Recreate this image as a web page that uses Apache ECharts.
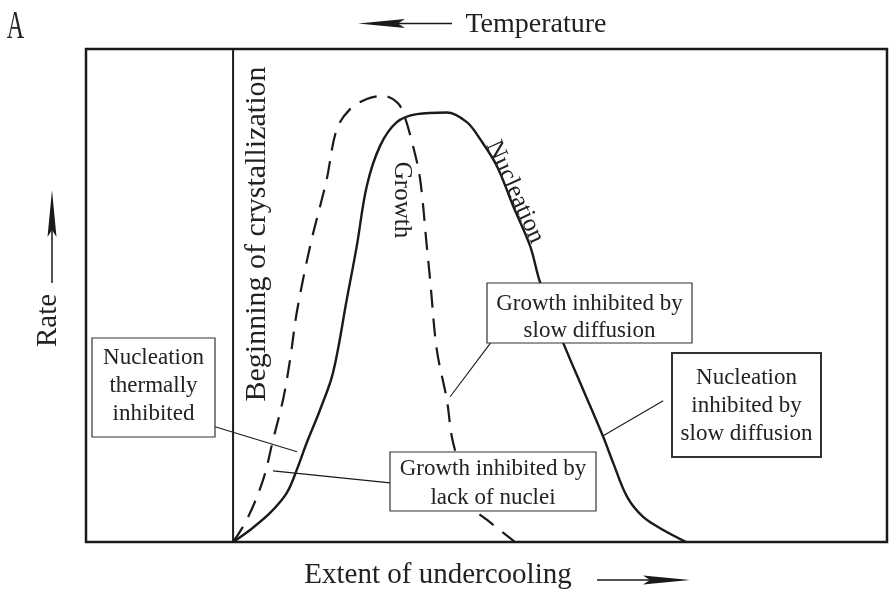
<!DOCTYPE html>
<html>
<head>
<meta charset="utf-8">
<script src="https://cdn.jsdelivr.net/npm/echarts@6/dist/echarts.min.js"></script>
<style>html,body{margin:0;padding:0;background:#fff}#c{width:889px;height:591px}</style>
</head>
<body>
<div id="c"></div>
<script>
// ---- data (arbitrary units: x = extent of undercooling, y = rate) ----
const onsetX = 19.17;
const nucleationX = [19.17, 21.38, 23.99, 26.17, 27.47, 28.77, 30.51, 32.20, 33.99, 35.29, 36.60, 38.33, 40.51, 43.12, 47.03, 49.64, 51.37, 53.55, 55.67, 57.89, 59.19, 62.19, 64.80, 67.41, 68.71, 70.53, 72.62, 75.23, 78.23];
const nucleationY = [0, 2.44, 5.89, 9.96, 14.63, 20.12, 26.83, 34.35, 49.19, 60.02, 72.22, 80.35, 85.16, 86.79, 87.13, 85.16, 81.71, 76.28, 68.15, 60.02, 52.64, 40.45, 30.89, 21.34, 16.06, 9.15, 5.08, 2.44, 0];
const growthX = [19.17, 20.95, 23.08, 24.38, 25.68, 26.60, 27.47, 29.20, 30.51, 31.38, 32.69, 34.42, 36.60, 38.72, 40.51, 41.33, 42.63, 43.55, 44.42, 44.85, 45.72, 47.03, 47.85, 50.46, 52.28, 55.93];
const growthY = [0, 4.47, 12.60, 20.73, 28.86, 36.99, 46.54, 59.96, 68.09, 73.58, 83.74, 87.80, 89.84, 90.51, 89.23, 87.20, 80.28, 73.58, 59.96, 53.25, 39.02, 28.86, 20.12, 7.11, 4.47, 0];

const zip = (xs, ys) => xs.map((x, i) => [x, ys[i]]);

// annotation leader lines (data coords)
const leaders = [
  [[16.82, 23.37], [27.51, 18.29]],
  [[24.38, 14.43], [39.63, 11.99]],
  [[53.06, 41.06], [47.46, 29.47]],
  [[75.23, 28.66], [67.41, 21.54]]
];

const FONT = '"Liberation Serif", "Times New Roman", serif';
const INK = '#1a1a1a';

const chart = echarts.init(document.getElementById('c'), null, {renderer: 'canvas'});

function txt(text, x, y, size, opts) {
  opts = opts || {};
  return {
    type: 'text', x: x, y: y, z: 120,
    rotation: opts.rotation || 0,
    scaleX: opts.scaleX || 1,
    style: {
      text: text, x: 0, y: 0,
      font: size + 'px ' + FONT,
      fill: '#222',
      textAlign: 'center', textVerticalAlign: 'middle',
      lineHeight: opts.lh || size
    }
  };
}
function box(x, y, w, h, lw) {
  return {
    type: 'rect', z: 110,
    shape: {x: x, y: y, width: w, height: h},
    style: {fill: '#fff', stroke: '#333', lineWidth: lw}
  };
}
function arrowLine(x1, y1, x2, y2) {
  return {type: 'line', z: 110, shape: {x1: x1, y1: y1, x2: x2, y2: y2}, style: {stroke: INK, lineWidth: 1.5}};
}
function head(points) {
  return {type: 'polygon', z: 111, shape: {points: points}, style: {fill: INK}};
}

const leaderSeries = leaders.map(l => ({
  type: 'line', data: l, symbol: 'none', silent: true, z: 3,
  lineStyle: {color: INK, width: 1.1}
}));

chart.setOption({
  animation: false,
  backgroundColor: '#fff',
  grid: {left: 86, top: 49, right: 2, bottom: 49, show: true, borderColor: INK, borderWidth: 2.5, backgroundColor: 'transparent'},
  xAxis: {type: 'value', min: 0, max: 104.4, show: false},
  yAxis: {type: 'value', min: 0, max: 100, show: false},
  series: [
    {type: 'line', name: 'Nucleation', data: zip(nucleationX, nucleationY), smooth: 0.35, symbol: 'none',
     lineStyle: {color: INK, width: 2.4}, z: 4},
    {type: 'line', name: 'Growth', data: zip(growthX, growthY), smooth: 0.35, symbol: 'none',
     lineStyle: {color: INK, width: 2.2, type: [18, 11]}, z: 4},
    {type: 'line', name: 'onset', data: [[onsetX, 0], [onsetX, 100]], symbol: 'none',
     lineStyle: {color: INK, width: 2}, z: 4}
  ].concat(leaderSeries),
  graphic: [
    txt('A', 15.5, 27, 40, {scaleX: 0.6}),
    txt('Temperature', 536, 25, 28),
    arrowLine(398, 23.5, 452, 23.5),
    head([[358, 23.5], [405, 19], [398, 23.5], [405, 28]]),
    txt('Extent of undercooling', 438, 575, 29),
    arrowLine(597, 580, 650, 580),
    head([[690, 580], [643, 575.5], [650, 580], [643, 584.5]]),
    txt('Rate', 48.5, 320.5, 29, {rotation: Math.PI / 2}),
    arrowLine(52, 230, 52, 283),
    head([[52, 190], [47.5, 237], [52, 230], [56.5, 237]]),
    txt('Beginning of crystallization', 257, 234, 30, {rotation: Math.PI / 2}),
    txt('Growth', 402, 200, 25, {rotation: -Math.PI / 2}),
    txt('Nucleation', 515, 192, 25, {rotation: -65.5 * Math.PI / 180}),
    box(92, 338, 123, 99, 1.2),
    txt('Nucleation\nthermally\ninhibited', 153.5, 386, 23, {lh: 28}),
    box(390, 452, 206, 59, 1.2),
    txt('Growth inhibited by\nlack of nuclei', 493, 483, 23, {lh: 29}),
    box(487, 283, 205, 60, 1.2),
    txt('Growth inhibited by\nslow diffusion', 589.5, 317, 23, {lh: 27}),
    box(672, 353, 149, 104, 2),
    txt('Nucleation\ninhibited by\nslow diffusion', 746.5, 406, 23, {lh: 28})
  ]
});
</script>
</body>
</html>
